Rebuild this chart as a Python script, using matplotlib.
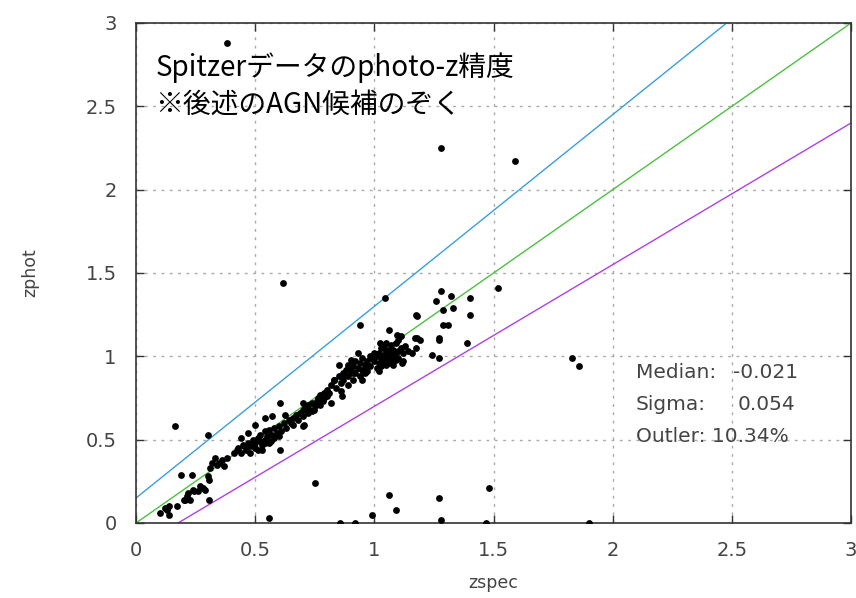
import numpy as np
import matplotlib
matplotlib.use("Agg")
import matplotlib.pyplot as plt

### DATA ###
# zspec / zphot
zspec = [
    # outliers
    0.38, 1.28, 1.59, 0.615, 0.94, 1.045, 1.52, 0.165, 0.30, 0.75, 1.06, 1.09, 1.27, 1.28,
    1.48, 1.47, 0.56, 0.855, 0.92, 0.99, 1.90, 1.83, 1.86,
    # upper right
    1.28, 1.32, 1.26, 1.40, 1.33, 1.29, 1.40, 1.29, 1.31, 1.175, 1.18, 1.27, 1.39, 1.17,
    1.19, 1.24, 1.27, 1.175, 1.16, 1.14, 1.06, 1.18, 1.27, 1.12,
    # cluster around z~1
    1.00, 1.01, 1.01, 1.02, 1.02, 1.03, 1.03, 1.03, 1.04, 1.04, 1.04, 1.05, 1.05, 1.05,
    1.06, 1.06, 1.06, 1.07, 1.07, 1.07, 1.08, 1.08, 1.08, 1.09, 1.09, 1.09, 1.10, 1.10,
    1.10, 1.11, 1.11, 1.12, 1.115, 1.035, 1.00, 0.99, 1.02, 1.05, 1.13, 1.095, 1.025,
    # 0.8 - 1.0
    0.82, 0.83, 0.84, 0.85, 0.85, 0.86, 0.87, 0.87, 0.88, 0.89, 0.89, 0.90, 0.91, 0.91,
    0.92, 0.92, 0.93, 0.94, 0.94, 0.95, 0.95, 0.96, 0.97, 0.97, 0.98, 0.98, 0.93, 0.90,
    0.955, 0.96, 0.95, 0.91, 0.89, 0.87, 0.89, 0.86, 0.83, 0.865,
    # 0.63 - 0.81
    0.64, 0.65, 0.66, 0.67, 0.68, 0.69, 0.70, 0.71, 0.72, 0.72, 0.73, 0.74, 0.75, 0.76,
    0.77, 0.77, 0.78, 0.79, 0.80, 0.80, 0.81, 0.79, 0.785, 0.765, 0.82, 0.745, 0.70, 0.70,
    0.705, 0.70, 0.74, 0.66, 0.645,
    # 0.42 - 0.63
    0.43, 0.45, 0.46, 0.47, 0.48, 0.49, 0.50, 0.50, 0.51, 0.52, 0.52, 0.53, 0.54, 0.54,
    0.55, 0.56, 0.56, 0.57, 0.58, 0.58, 0.59, 0.60, 0.60, 0.61, 0.62, 0.63, 0.48, 0.44,
    0.51, 0.53, 0.605, 0.54, 0.57, 0.625, 0.50, 0.47, 0.44, 0.455, 0.495, 0.54, 0.565,
    0.605, 0.425, 0.41,
    # 0.08 - 0.40
    0.38, 0.36, 0.34, 0.37, 0.33, 0.31, 0.305, 0.29, 0.305, 0.27, 0.235, 0.19, 0.245,
    0.215, 0.205, 0.225, 0.17, 0.14, 0.14, 0.12, 0.10, 0.30, 0.28, 0.26, 0.24, 0.22,
    0.20, 0.13, 0.35, 0.32,
]
zphot = [
    # outliers
    2.88, 2.25, 2.17, 1.44, 1.19, 1.35, 1.41, 0.58, 0.53, 0.24, 0.17, 0.08, 0.15, 0.02,
    0.21, 0.00, 0.03, 0.00, 0.00, 0.05, 0.00, 0.99, 0.94,
    # upper right
    1.39, 1.36, 1.33, 1.35, 1.29, 1.28, 1.25, 1.19, 1.19, 1.25, 1.24, 1.10, 1.08, 1.11,
    1.10, 1.01, 0.99, 1.05, 1.02, 1.03, 1.16, 1.11, 1.11, 0.97,
    # cluster around z~1
    0.97, 1.00, 0.93, 1.02, 0.96, 1.05, 0.99, 0.94, 1.01, 0.97, 1.06, 1.03, 0.98, 0.95,
    1.00, 1.04, 0.96, 1.02, 0.98, 1.07, 1.00, 1.04, 0.95, 1.02, 0.98, 1.08, 1.03, 1.10,
    0.99, 1.05, 1.12, 1.02, 0.96, 1.06, 1.02, 0.99, 0.91, 1.08, 1.06, 1.13, 1.08,
    # 0.8 - 1.0
    0.83, 0.86, 0.81, 0.88, 0.95, 0.84, 0.90, 0.86, 0.92, 0.88, 0.95, 0.91, 0.86, 0.94,
    0.97, 0.90, 0.93, 0.88, 0.96, 0.99, 0.92, 0.95, 0.97, 0.91, 1.00, 0.94, 1.02, 0.98,
    0.92, 0.90, 0.86, 0.90, 0.93, 0.88, 0.83, 0.79, 0.86, 0.76,
    # 0.63 - 0.81
    0.62, 0.60, 0.63, 0.65, 0.62, 0.66, 0.64, 0.69, 0.66, 0.71, 0.68, 0.72, 0.70, 0.73,
    0.71, 0.77, 0.74, 0.78, 0.76, 0.80, 0.78, 0.75, 0.73, 0.75, 0.72, 0.68, 0.68, 0.58,
    0.59, 0.72, 0.67, 0.59, 0.62,
    # 0.42 - 0.63
    0.45, 0.47, 0.44, 0.48, 0.46, 0.50, 0.48, 0.45, 0.51, 0.49, 0.53, 0.47, 0.50, 0.55,
    0.52, 0.48, 0.56, 0.53, 0.51, 0.57, 0.54, 0.52, 0.58, 0.55, 0.60, 0.57, 0.42, 0.42,
    0.44, 0.44, 0.72, 0.63, 0.64, 0.65, 0.59, 0.54, 0.51, 0.46, 0.47, 0.48, 0.49,
    0.44, 0.44, 0.42,
    # 0.08 - 0.40
    0.39, 0.38, 0.35, 0.34, 0.39, 0.33, 0.26, 0.20, 0.14, 0.22, 0.29, 0.29, 0.19,
    0.16, 0.14, 0.14, 0.10, 0.10, 0.05, 0.09, 0.06, 0.28, 0.21, 0.19, 0.20, 0.18,
    0.14, 0.08, 0.36, 0.36,
]

stats_labels = ["Median:", "Sigma:"]
stats_values = ["-0.021", "0.054"]
outlier_text = "Outler: 10.34%"
note_lines = ["Spitzerデータのphoto-z精度", "※後述のAGN候補のぞく"]

plt.rcParams['font.family'] = ['DejaVu Sans']

fig = plt.figure(figsize=(8.56, 5.98), dpi=100)
ax = fig.add_axes([136/856, 1 - 523/598, 715/856, 500/598])

# reference lines: zphot = zspec, zspec +/- 0.15(1+zspec)
zline = np.array([0.0, 3.0])
ax.plot(zline, zline + 0.15*(1 + zline), color='#3a9ee0', lw=1.0)
ax.plot(zline, zline, color='#4cc040', lw=1.0)
ax.plot(zline, zline - 0.15*(1 + zline), color='#b040e0', lw=1.0)

ax.scatter(zspec, zphot, s=24, color='black', zorder=3, linewidths=0)

ax.set_xlim(0, 3)
ax.set_ylim(0, 3)
ax.set_xticks([0, 0.5, 1, 1.5, 2, 2.5, 3])
ax.set_yticks([0, 0.5, 1, 1.5, 2, 2.5, 3])
ax.set_xticklabels(["0", "0.5", "1", "1.5", "2", "2.5", "3"])
ax.set_yticklabels(["0", "0.5", "1", "1.5", "2", "2.5", "3"])
ax.grid(True, color='#aaaaaa', linestyle=(0, (2, 4)), lw=1.0)
ax.set_axisbelow(True)
ax.tick_params(direction='in', top=True, right=True, length=6, width=1,
               color='#333333', labelsize=14, labelcolor='#444444')
ax.tick_params(axis='x', pad=13)
ax.tick_params(axis='y', pad=14)
for sp in ax.spines.values():
    sp.set_color('#333333')
    sp.set_linewidth(1.2)

ax.set_xlabel("zspec", fontsize=12.5, color='#444444')
ax.set_ylabel("zphot", fontsize=12.5, color='#444444')
ax.xaxis.set_label_coords(0.5, -0.103)
ax.yaxis.set_label_coords(-0.135, 0.5)

# note text
ax.text(0.027, 0.894, note_lines[0], transform=ax.transAxes, fontsize=20,
        family=['Noto Sans CJK JP', 'DejaVu Sans'], va='baseline', color='black')
ax.text(0.027, 0.82, note_lines[1], transform=ax.transAxes, fontsize=20,
        family=['Noto Sans CJK JP', 'DejaVu Sans'], va='baseline', color='black')

# stats box
rows = [0.302, 0.238]
for lab, val, yy in zip(stats_labels, stats_values, rows):
    ax.text(0.699, yy, lab, transform=ax.transAxes, fontsize=14.5, color='#444444', va='center')
    xv = 0.835 if val.startswith('-') else 0.841
    ax.text(xv, yy, val, transform=ax.transAxes, fontsize=14.5, color='#444444', va='center')
ax.text(0.699, 0.172, outlier_text, transform=ax.transAxes, fontsize=14.5, color='#444444', va='center')

plt.savefig("out.png", dpi=100)
